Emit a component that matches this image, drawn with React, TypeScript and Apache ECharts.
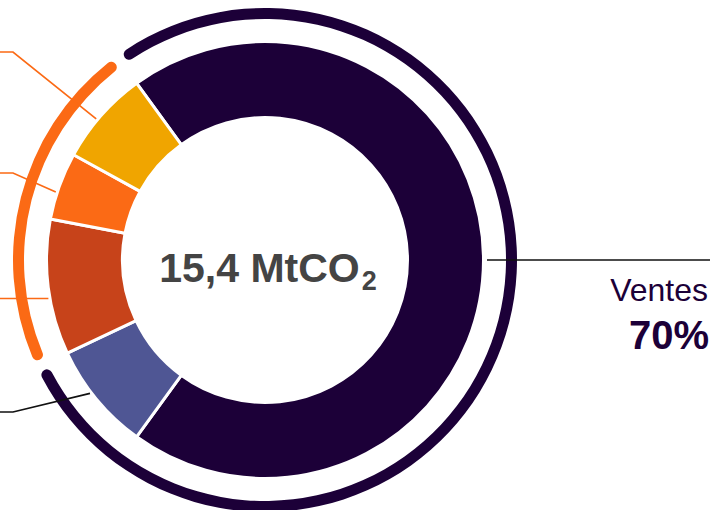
import { useEffect, useRef } from 'react';
import * as echarts from 'echarts';

// Emission shares (%) of the 15,4 MtCO2 footprint, listed clockwise
// starting at the top-left edge of the "Ventes" slice.
const sliceValues = [70, 8, 10, 5, 7];
const sliceColors = ['#1c0038', '#4f5694', '#c7431a', '#fb6a15', '#f0a500'];
const salesName = 'Ventes';

// Outer brackets: slices grouped together (dark and orange rings).
const bracketGroups = [[0, 1], [2, 3, 4]];
const bracketColors = ['#1c0038', '#fb6a15'];

// Centre caption
const totalValue = '15,4';
const totalUnit = 'MtCO';
const totalUnitSub = '2';

// Layout
const CX = 265;
const CY = 260;
const START_ANGLE = 126; // degrees, ECharts convention
const FONT = '"Liberation Sans", Arial, Helvetica, sans-serif';
const ORANGE = '#fb6a15';
const INK = '#111111';

// Leader lines for the smaller slices; their labels sit past the left edge.
const leaders = [
  { slice: 4, at: 0.44, bend: [13, 52], color: ORANGE },
  { slice: 3, at: 0.4, bend: [13, 173], color: ORANGE },
  { slice: 2, at: 0.42, bend: null, color: ORANGE },
  { slice: 1, at: 0.58, bend: [13, 412], color: INK },
];

const total = sliceValues.reduce((a, b) => a + b, 0);
// angle measured clockwise from 12 o'clock
const cwStart = 90 - START_ANGLE;
const sliceStartDeg = (i: number) =>
  cwStart + (sliceValues.slice(0, i).reduce((a, b) => a + b, 0) / total) * 360;
const sliceSpanDeg = (i: number) => (sliceValues[i] / total) * 360;
const polar = (deg: number, r: number): [number, number] => {
  const a = (deg * Math.PI) / 180;
  return [CX + r * Math.sin(a), CY - r * Math.cos(a)];
};

export default function App() {
  const ref = useRef<HTMLDivElement>(null);

  useEffect(() => {
    if (!ref.current) return;
    const chart = echarts.init(ref.current, undefined, { renderer: 'svg' });

    const leaderEls = leaders.map((l) => {
      const start = polar(sliceStartDeg(l.slice) + sliceSpanDeg(l.slice) * l.at, 220);
      const pts: [number, number][] = [start];
      if (l.bend) pts.push([l.bend[0], l.bend[1]]);
      const last = pts[pts.length - 1];
      pts.push([-10, last[1]]);
      return {
        type: 'polyline',
        z: 10,
        silent: true,
        shape: { points: pts },
        style: { stroke: l.color, lineWidth: 1.7, fill: null },
      };
    });

    const salesMid = sliceStartDeg(0) + sliceSpanDeg(0) / 2;
    const salesStart = polar(salesMid, 222);

    chart.setOption({
      animation: false,
      series: [
        {
          type: 'pie',
          center: [CX, CY],
          radius: [142.5, 218.5],
          startAngle: START_ANGLE,
          clockwise: true,
          silent: true,
          label: { show: false },
          labelLine: { show: false },
          itemStyle: { borderColor: '#ffffff', borderWidth: 3 },
          data: sliceValues.map((v, i) => ({
            value: v,
            name: i === 0 ? salesName : `s${i}`,
            itemStyle: { color: sliceColors[i] },
          })),
        },
        {
          type: 'pie',
          center: [CX, CY],
          radius: [241, 252],
          startAngle: START_ANGLE,
          clockwise: true,
          padAngle: 2.6,
          silent: true,
          label: { show: false },
          labelLine: { show: false },
          itemStyle: { borderRadius: 6 },
          data: bracketGroups.map((g, i) => ({
            value: g.reduce((a, idx) => a + sliceValues[idx], 0),
            name: `g${i}`,
            itemStyle: { color: bracketColors[i] },
          })),
        },
      ],
      graphic: {
        elements: [
          ...leaderEls,
          {
            type: 'polyline',
            z: 10,
            silent: true,
            shape: { points: [salesStart, [720, salesStart[1]]] },
            style: { stroke: INK, lineWidth: 1.7, fill: null },
          },
          {
            type: 'text',
            z: 10,
            x: 708,
            y: 290,
            silent: true,
            style: {
              text: salesName,
              fontFamily: FONT,
              fontSize: 32,
              fill: '#1c0038',
              align: 'right',
              verticalAlign: 'middle',
            },
          },
          {
            type: 'text',
            z: 10,
            x: 709,
            y: 335,
            silent: true,
            style: {
              text: `${sliceValues[0]}%`,
              fontFamily: FONT,
              fontSize: 40,
              fontWeight: 'bold',
              fill: '#1c0038',
              align: 'right',
              verticalAlign: 'middle',
            },
          },
          {
            type: 'text',
            z: 10,
            x: CX + 3,
            y: CY + 8,
            silent: true,
            style: {
              text: `{v|${totalValue} ${totalUnit}}{s|${totalUnitSub}}`,
              fill: '#444444',
              fontFamily: FONT,
              fontSize: 41,
              fontWeight: 'bold',
              align: 'center',
              verticalAlign: 'middle',
              rich: {
                v: {
                  fontFamily: FONT,
                  fontSize: 41,
                  fontWeight: 'bold',
                  lineHeight: 52,
                  fill: '#444444',
                },
                s: {
                  fontFamily: FONT,
                  fontSize: 27,
                  fontWeight: 'bold',
                  lineHeight: 16,
                  verticalAlign: 'bottom',
                  padding: [0, 0, 0, 2],
                  fill: '#444444',
                },
              },
            },
          },
        ],
      },
    });

    return () => chart.dispose();
  }, []);

  return (
    <div
      ref={ref}
      style={{ position: 'absolute', left: 0, top: 0, width: 710, height: 510 }}
    />
  );
}
